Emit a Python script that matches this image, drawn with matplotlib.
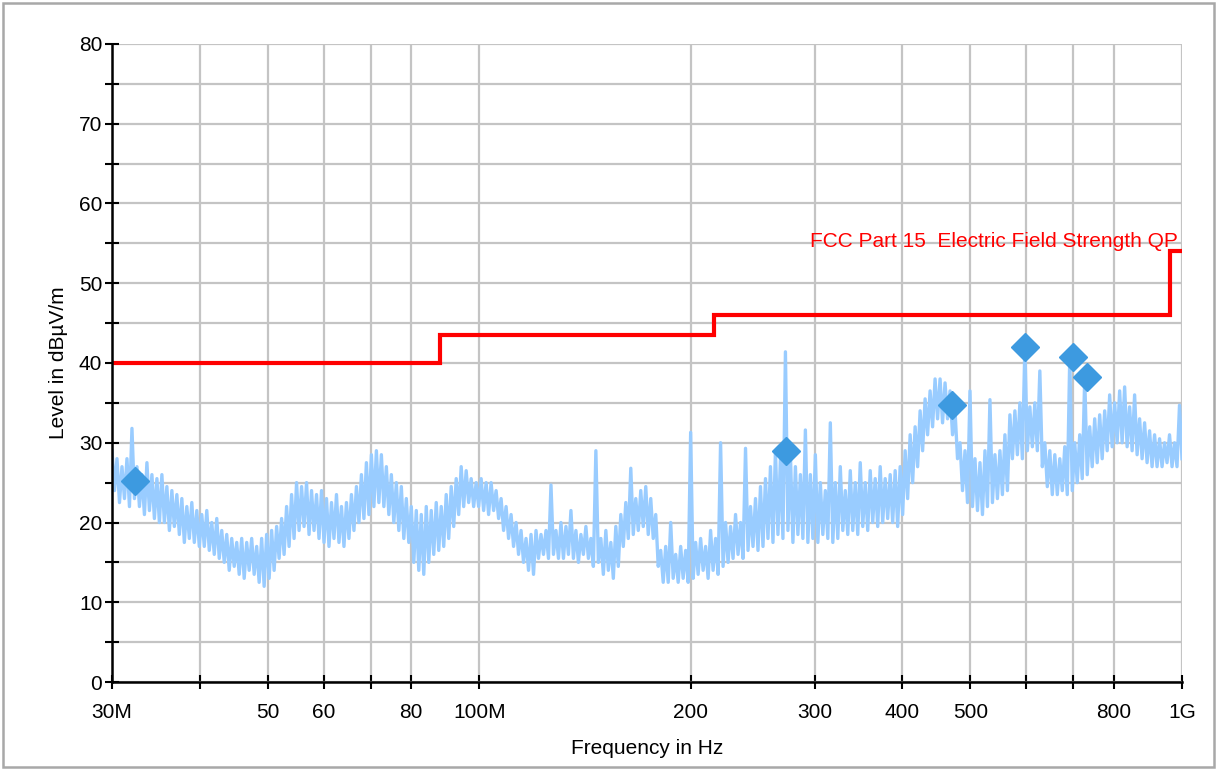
import matplotlib.pyplot as plt
import numpy as np
from matplotlib.ticker import MultipleLocator, FixedLocator, NullLocator
from matplotlib.patches import Rectangle

plt.rcParams['font.family'] = ['Liberation Sans', 'DejaVu Sans']

# peak sweep, pairs of (max, min) per frequency bin, dBuV/m
sweep_pairs = [
    (29, 24), (28, 22.5), (27, 23), (28, 22), (31.8, 23),
    (27, 22), (26, 21), (27.5, 21.5), (26, 20.5), (25.5, 20),
    (26, 20), (24.5, 19), (24, 19.5), (23.5, 18.5), (23, 17.5),
    (22, 18), (22.5, 17.5), (21.5, 17), (21, 17), (21.5, 16.5),
    (20, 16), (20.5, 15.5), (19, 15), (18.5, 14), (18, 14.5),
    (17.5, 13.5), (18, 13), (17.5, 14), (18, 13.5), (17, 12.5),
    (18, 12), (18.5, 13), (19, 14), (19.5, 15.5), (20.5, 16),
    (22, 17), (23.5, 18), (25, 19), (24.5, 19.5), (25, 18.5),
    (24, 19), (23.5, 18), (24, 17.5), (23, 17), (22.5, 18),
    (23.5, 17.5), (22, 17), (22.5, 18), (23.5, 19), (24.5, 20),
    (26, 20.5), (27.5, 21), (28.5, 22), (29, 22.5), (28.5, 22),
    (27, 21), (26, 20), (25, 19), (24.5, 18), (23, 17.5),
    (22, 15), (21.5, 14), (21, 13.5), (22, 15), (21.5, 16),
    (22.5, 16.5), (22, 17), (23.5, 18), (24.5, 19.5), (25.5, 21),
    (27, 22), (26.5, 22.5), (25.5, 22), (25, 22), (25.5, 21.5),
    (25, 21), (25, 21.5), (24, 20.5), (23, 19), (22, 18),
    (21, 17), (20, 16), (19, 15), (18, 14), (18.5, 13.5),
    (19, 15.5), (18.5, 16), (19, 15.5), (24.7, 16), (19, 15.5),
    (20, 15.5), (19.5, 16), (21.5, 15.5), (19, 15), (18.5, 16),
    (19.5, 15.5), (18, 14.5), (29, 15), (18, 13.5), (19, 14),
    (17.5, 13), (19.5, 14.5), (21, 17), (22.5, 18), (26.8, 18.5),
    (23, 19), (24, 19.5), (24.5, 18.5), (23, 18), (21, 14.5),
    (16.5, 12.5), (17, 12.5), (20, 13), (16, 12.5), (17, 13),
    (16.5, 12.5), (31.3, 13), (17.5, 13.5), (18, 14), (17, 13),
    (19, 14), (18, 13.5), (30, 14.5), (20, 15), (19.5, 15.5),
    (21, 16), (20, 15.5), (29.3, 16.5), (22, 17), (23, 16.5),
    (24.5, 17), (25.5, 18), (27, 17.5), (29, 18.5), (28, 18),
    (41.4, 19), (28.5, 17.5), (27, 18.5), (26, 18), (31.6, 17.5),
    (26, 18), (28.5, 17.5), (25, 18.5), (24, 18), (32.5, 17.5),
    (25, 18), (27, 19), (24, 18.5), (26.5, 19), (25, 18.5),
    (27.5, 19.5), (25, 19), (26.5, 20), (25.5, 19.5), (27, 20),
    (25.5, 20.5), (26, 20), (26.5, 19.5), (27, 21), (29, 23),
    (31, 25), (32, 27), (34, 29), (35.5, 31), (36.5, 32),
    (38, 33), (38, 32.5), (37.5, 33), (36.5, 31), (34, 28),
    (30, 24), (29, 22.5), (36.5, 22), (28, 21.5), (27.5, 21),
    (29, 22), (35.4, 22.5), (28.5, 23), (29, 23.5), (31, 24),
    (33.5, 28), (34, 28.5), (35, 28), (42, 29), (34.5, 29.5),
    (35, 29), (39, 27), (30, 24.5), (29, 23.5), (28.5, 23.5),
    (28, 24), (29.5, 23.5), (40.8, 24), (30, 25), (31, 25.5),
    (38.2, 26), (32, 27), (33, 27.5), (33.5, 28), (34, 29),
    (36, 29.5), (35, 30), (36.5, 30), (37, 29.5), (34.5, 29),
    (36, 28.5), (33, 28), (32.5, 27.5), (31.5, 27), (31, 27),
    (30.5, 27), (30, 27.5), (31, 27), (30, 27), (34.7, 28),
]
sweep_level = [v for pair in sweep_pairs for v in pair]
sweep_freq = np.geomspace(30e6, 1e9, len(sweep_level))

# quasi-peak final measurements
qp_freq = [32.3e6, 273e6, 471e6, 598e6, 700e6, 733e6]
qp_level = [25.2, 29.0, 34.7, 42.0, 40.8, 38.2]

# FCC Part 15 radiated limit (steps)
limit_freq = [30e6, 88e6, 88e6, 216e6, 216e6, 960e6, 960e6, 1e9]
limit_level = [40, 40, 43.5, 43.5, 46, 46, 54, 54]

xticks = [30e6, 40e6, 50e6, 60e6, 70e6, 80e6, 100e6, 200e6, 300e6,
          400e6, 500e6, 600e6, 700e6, 800e6, 1e9]
xlabels = ['30M', '', '50', '60', '', '80', '100M', '200', '300',
           '400', '500', '', '', '800', '1G']

fig = plt.figure(figsize=(12.17, 7.70), dpi=100)
ax = fig.add_axes([112 / 1217, 88 / 770, 1070 / 1217, 638 / 770])

ax.plot(sweep_freq, sweep_level, color='#99ccff', lw=2.4, zorder=3)
ax.plot(limit_freq, limit_level, color='#ff0000', lw=3, zorder=4,
        solid_joinstyle='miter')
ax.plot(qp_freq, qp_level, ls='none', marker='D', ms=14,
        color='#3d9ae0', mec='#3d9ae0', zorder=5, clip_on=False)

ax.text(0.9965, 54.0, 'FCC Part 15  Electric Field Strength QP',
        transform=ax.get_yaxis_transform(), ha='right', va='bottom',
        color='#ff0000', fontsize=15)

ax.set_xscale('log')
ax.set_xlim(30e6, 1e9)
ax.set_ylim(0, 80)
ax.xaxis.set_major_locator(FixedLocator(xticks))
ax.xaxis.set_minor_locator(NullLocator())
ax.set_xticklabels(xlabels)
ax.yaxis.set_major_locator(MultipleLocator(10))
ax.yaxis.set_minor_locator(MultipleLocator(5))

ax.grid(True, which='both', color='#c4c4c4', lw=1.6, zorder=0)
ax.set_axisbelow(True)
for s in ['top', 'right']:
    ax.spines[s].set_visible(False)
for s in ['left', 'bottom']:
    ax.spines[s].set_linewidth(1.8)
    ax.spines[s].set_zorder(6)
ax.tick_params(which='both', direction='inout', length=10, width=1.5,
               labelsize=15)
ax.tick_params(axis='x', pad=10)
ax.tick_params(axis='y', pad=2)

ax.set_xlabel('Frequency in Hz', fontsize=15, labelpad=12)
ax.set_ylabel('Level in dBµV/m', fontsize=15, labelpad=8)

fig.patches.append(Rectangle((3 / 1217, 3 / 770), 1211 / 1217, 764 / 770,
                             transform=fig.transFigure, fill=False,
                             edgecolor='#a8a8a8', lw=1.8))

fig.savefig('out.png', dpi=100)
